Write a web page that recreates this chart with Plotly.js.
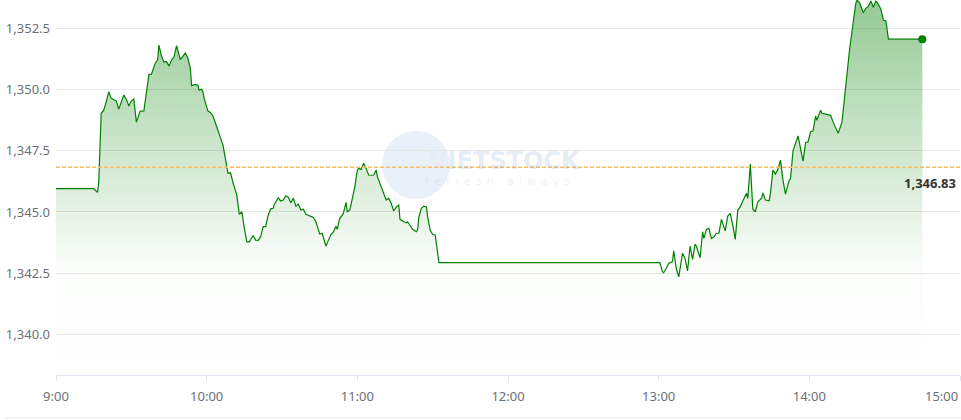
<!DOCTYPE html>
<html>
<head>
<meta charset="utf-8">
<script src="https://cdn.plot.ly/plotly-3.0.1.min.js"></script>
<style>
html,body{margin:0;padding:0;background:#fff;}
#chart{width:961px;height:420px;}
</style>
</head>
<body>
<div id="chart"></div>
<script>
const tradeDate = "2024-01-01";
const times = ["09:00:00","09:15:00","09:16:30","09:17:00","09:18:00","09:19:00","09:20:00","09:21:00","09:22:00","09:24:00","09:25:00","09:26:00","09:27:00","09:28:00","09:29:00","09:30:00","09:31:00","09:32:00","09:33:30","09:35:00","09:37:00","09:38:00","09:39:30","09:40:30","09:41:00","09:42:00","09:43:00","09:44:00","09:45:00","09:46:00","09:47:00","09:48:00","09:49:30","09:50:00","09:51:30","09:52:30","09:53:30","09:54:00","09:55:30","09:56:30","09:57:00","09:58:00","09:58:30","09:59:00","10:00:30","10:01:30","10:02:30","10:03:00","10:04:30","10:06:00","10:06:30","10:08:30","10:09:30","10:10:30","10:12:00","10:13:00","10:14:00","10:15:00","10:16:00","10:17:00","10:18:30","10:19:30","10:20:30","10:21:30","10:22:30","10:23:30","10:24:30","10:25:30","10:26:30","10:27:00","10:28:30","10:29:30","10:30:30","10:31:30","10:32:30","10:33:30","10:34:30","10:35:30","10:36:30","10:37:30","10:38:30","10:39:30","10:40:30","10:41:30","10:42:30","10:43:30","10:45:00","10:46:00","10:47:30","10:48:30","10:49:30","10:50:30","10:51:30","10:52:00","10:53:00","10:54:00","10:54:30","10:55:30","10:56:00","10:57:00","10:58:00","10:59:00","11:00:00","11:00:30","11:01:30","11:02:30","11:03:30","11:04:30","11:05:30","11:06:30","11:07:30","11:08:00","11:09:00","11:10:00","11:10:30","11:11:30","11:12:30","11:13:30","11:14:30","11:15:30","11:16:30","11:17:00","11:18:30","11:19:30","11:20:00","11:21:00","11:22:00","11:23:30","11:24:00","11:24:30","11:25:30","11:26:30","11:27:30","11:28:00","11:29:00","11:30:00","11:31:00","11:32:30","13:00:30","13:01:30","13:02:00","13:03:00","13:04:00","13:05:30","13:06:00","13:07:00","13:08:00","13:09:30","13:10:30","13:11:30","13:12:30","13:13:30","13:14:30","13:15:00","13:16:30","13:17:30","13:18:00","13:19:00","13:20:00","13:21:00","13:22:00","13:23:00","13:24:00","13:25:00","13:26:30","13:27:30","13:28:30","13:29:30","13:30:30","13:31:30","13:32:30","13:33:30","13:35:00","13:35:30","13:36:30","13:37:30","13:38:30","13:39:30","13:41:00","13:41:30","13:42:30","13:44:00","13:44:30","13:45:30","13:46:30","13:47:30","13:48:30","13:49:30","13:50:30","13:52:00","13:52:30","13:53:30","13:55:30","13:57:30","13:58:30","13:59:30","14:00:30","14:01:30","14:02:30","14:03:00","14:04:30","14:05:00","14:08:30","14:09:30","14:11:30","14:13:00","14:13:30","14:14:30","14:16:00","14:17:30","14:18:30","14:19:00","14:20:00","14:21:30","14:22:30","14:23:30","14:24:30","14:25:30","14:26:30","14:27:30","14:28:30","14:29:30","14:30:30","14:31:30","14:45:00"];
const values = [1345.95,1345.95,1345.80,1346.17,1349.03,1349.16,1349.50,1349.91,1349.64,1349.54,1349.20,1349.54,1349.78,1349.61,1349.33,1349.54,1349.61,1348.67,1349.12,1349.13,1350.62,1350.63,1351.07,1351.23,1351.82,1351.37,1351.12,1351.15,1350.96,1351.21,1351.34,1351.79,1351.23,1351.29,1351.50,1351.29,1350.87,1350.16,1350.21,1350.18,1349.98,1350.01,1349.91,1349.64,1349.12,1349.07,1348.92,1348.78,1348.35,1347.90,1347.73,1346.58,1346.60,1346.19,1345.69,1344.90,1345.01,1344.33,1343.78,1343.78,1344.04,1343.85,1343.84,1343.99,1344.40,1344.40,1344.87,1345.13,1345.15,1345.32,1345.58,1345.45,1345.49,1345.66,1345.60,1345.38,1345.56,1345.24,1345.32,1345.08,1345.11,1344.91,1344.87,1344.80,1344.78,1344.60,1344.10,1344.13,1343.61,1343.85,1344.08,1344.19,1344.42,1344.29,1344.74,1344.87,1344.97,1345.39,1345.01,1345.08,1345.56,1346.03,1346.71,1346.78,1346.74,1346.99,1346.78,1346.51,1346.50,1346.51,1346.71,1346.44,1346.17,1345.92,1345.73,1345.49,1345.56,1345.35,1345.04,1345.21,1345.28,1344.70,1344.60,1344.56,1344.60,1344.46,1344.29,1344.19,1344.26,1344.80,1345.15,1345.24,1345.21,1344.80,1344.26,1344.08,1344.06,1342.93,1342.93,1342.56,1342.52,1342.70,1342.90,1342.97,1343.41,1342.70,1342.35,1343.31,1343.10,1342.59,1343.61,1343.06,1343.69,1343.61,1343.13,1344.19,1343.92,1344.29,1344.33,1343.92,1343.99,1344.13,1344.13,1344.70,1344.23,1344.83,1344.94,1344.46,1343.88,1345.08,1345.21,1345.45,1345.76,1345.56,1346.96,1345.11,1345.01,1345.42,1345.56,1345.78,1345.49,1345.46,1345.76,1346.71,1346.55,1346.74,1347.12,1346.30,1345.73,1346.30,1346.36,1347.50,1348.11,1347.08,1347.83,1347.87,1348.28,1348.32,1348.92,1348.75,1349.16,1349.03,1348.95,1348.66,1348.22,1348.67,1349.16,1350.25,1351.61,1352.77,1353.52,1353.66,1353.55,1353.14,1353.32,1353.41,1353.62,1353.36,1353.63,1353.48,1353.28,1352.84,1352.80,1352.06,1352.06];
const refValue = 1346.83;
const xTickTimes = ["09:00","10:00","11:00","12:00","13:00","14:00","15:00"];
const xTickLabels = ["9:00","10:00","11:00","12:00","13:00","14:00","15:00"];
const yTickValues = [1340.0,1342.5,1345.0,1347.5,1350.0,1352.5];

const yMin = 1338.34, yMax = 1353.66;
const xs = times.map(t => tradeDate + " " + t);
const lastX = xs[xs.length-1], lastY = values[values.length-1];
const fontFam = "'Noto Sans', 'Open Sans', sans-serif";
const lastTick = xTickLabels.length - 1;

const baseline = {
  x: xs, y: xs.map(() => yMin), type: "scatter", mode: "lines",
  line: {width: 0, color: "rgba(0,0,0,0)"}, hoverinfo: "skip", showlegend: false
};
const main = {
  x: xs, y: values, type: "scatter", mode: "lines",
  line: {color: "rgb(0,128,0)", width: 1.2},
  fill: "tonexty",
  fillgradient: {
    type: "vertical", start: yMin, stop: yMax,
    colorscale: [[0, "rgba(0,128,0,0)"], [0.29, "rgba(0,128,0,0.02)"], [1, "rgba(0,128,0,0.42)"]]
  },
  hoverinfo: "skip", showlegend: false
};
const endDot = {
  x: [lastX], y: [lastY], type: "scatter", mode: "markers",
  marker: {color: "rgb(0,128,0)", size: 8}, hoverinfo: "skip", showlegend: false, cliponaxis: false
};

const layout = {
  width: 961, height: 420,
  margin: {l: 56, r: 1, t: 0, b: 45, pad: 0},
  paper_bgcolor: "#fff", plot_bgcolor: "#fff",
  font: {family: fontFam, size: 13, color: "#6e7079"},
  showlegend: false,
  xaxis: {
    type: "date",
    range: [tradeDate + " 09:00", tradeDate + " 15:00"],
    tickmode: "array",
    tickvals: xTickTimes.map(t => tradeDate + " " + t),
    ticktext: xTickLabels.map((t, i) => i === lastTick ? "" : t),
    showgrid: false, zeroline: false,
    showline: true, linecolor: "#e0e6f1", linewidth: 1,
    ticks: "outside", ticklen: 5, tickcolor: "#e0e6f1",
    ticklabelstandoff: 4,
    tickfont: {family: fontFam, size: 13, color: "#6e7079"},
    fixedrange: true
  },
  yaxis: {
    range: [yMin, yMax],
    tickmode: "array", tickvals: yTickValues,
    ticktext: yTickValues.map(v => v.toLocaleString("en-US", {minimumFractionDigits: 1, maximumFractionDigits: 1})),
    showgrid: true, gridcolor: "#e8e8e8", gridwidth: 1,
    zeroline: false, showline: false, ticks: "",
    ticklabelstandoff: 5,
    tickfont: {family: fontFam, size: 13, color: "#6e7079"},
    fixedrange: true
  },
  shapes: [
    {type: "circle", xref: "paper", yref: "paper", xsizemode: "pixel", ysizemode: "pixel",
     xanchor: (416-56)/904, yanchor: 1-165/375, x0: -34, x1: 34, y0: -34, y1: 34,
     fillcolor: "rgba(185,210,238,0.32)", line: {width: 0}, layer: "below"},
    {type: "line", xref: "paper", yref: "y", x0: 0, x1: 1, y0: refValue, y1: refValue,
     line: {color: "#fbbd5c", width: 1.5, dash: "4px,2px"}},
    {type: "line", xref: "paper", yref: "paper", x0: (5-56)/904, x1: 1.01, y0: 1-418/375, y1: 1-418/375,
     line: {color: "#e6e6e6", width: 1}}
  ],
  annotations: [
    {xref: "paper", yref: "paper", x: (505-56)/904, y: 1-161/375, xanchor: "center", yanchor: "middle",
     showarrow: false,
     text: "<b><span style='color:rgba(235,110,110,0.25)'>V</span>IETSTOCK</b>",
     font: {family: "'DejaVu Sans', sans-serif", size: 24, color: "rgba(120,160,210,0.2)"}},
    {xref: "paper", yref: "paper", x: (458-56)/904, y: 1-181/375, xanchor: "left", yanchor: "middle",
     showarrow: false, text: "refresh always",
     font: {family: "'DejaVu Sans', sans-serif", size: 11, color: "rgba(150,150,170,0.15)"}},
    {xref: "paper", yref: "y", x: 1, y: refValue, xanchor: "right", yanchor: "top",
     xshift: -2, yshift: -5, showarrow: false,
     text: "<b>" + refValue.toLocaleString("en-US", {minimumFractionDigits: 2}) + "</b>",
     font: {family: fontFam, size: 13, color: "#333"}},
    {xref: "paper", yref: "paper", x: (960-56)/904, y: 1-396/375, xanchor: "right", yanchor: "middle",
     showarrow: false, text: xTickLabels[lastTick],
     font: {family: fontFam, size: 13, color: "#6e7079"}}
  ]
};

Plotly.newPlot("chart", [baseline, main, endDot], layout, {displayModeBar: false, staticPlot: true}).then(() => {
  const anns = document.querySelectorAll(".annotation-text");
  anns.forEach(a => { if (a.textContent === "refresh always") a.style.letterSpacing = "5px"; });
});
</script>
</body>
</html>
